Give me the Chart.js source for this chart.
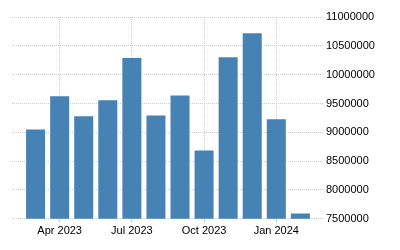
<!DOCTYPE html>
<html>
<head>
<meta charset="utf-8">
<script src="https://cdn.jsdelivr.net/npm/chart.js@4/dist/chart.umd.min.js"></script>
<style>
  html, body { margin: 0; padding: 0; background: #fff; }
  #wrap { width: 400px; height: 250px; }
</style>
</head>
<body>
<div id="wrap"><canvas id="chart"></canvas></div>
<script>
// monthly values, Mar 2023 .. Feb 2024
const months = ['Mar 2023', 'Apr 2023', 'May 2023', 'Jun 2023', 'Jul 2023', 'Aug 2023',
  'Sep 2023', 'Oct 2023', 'Nov 2023', 'Dec 2023', 'Jan 2024', 'Feb 2024'];
const values = [9050000, 9625000, 9280000, 9555000, 10290000, 9290000,
  9640000, 8685000, 10300000, 10720000, 9225000, 7590000];
const xTickIdx = [1, 4, 7, 10];
const yTicks = [7500000, 8000000, 8500000, 9000000, 9500000, 10000000, 10500000, 11000000];

const points = values.map((v, i) => ({ x: i, y: v }));
const font = { family: '"Liberation Sans", Arial, sans-serif', size: 11 };

new Chart(document.getElementById('chart'), {
  type: 'bar',
  data: {
    datasets: [{
      data: points,
      backgroundColor: '#4682b4',
      borderWidth: 0,
      barPercentage: 0.79,
      categoryPercentage: 1
    }]
  },
  options: {
    responsive: true,
    maintainAspectRatio: false,
    animation: false,
    layout: { padding: { left: 12, top: 17, right: 0, bottom: 10 } },
    plugins: { legend: { display: false }, tooltip: { enabled: false } },
    scales: {
      x: {
        type: 'linear',
        offset: false,
        min: -0.98,
        max: 11.94,
        afterBuildTicks: (scale) => {
          scale.ticks = xTickIdx.map(v => ({ value: v }));
        },
        ticks: {
          color: '#000',
          font: font,
          autoSkip: false,
          maxRotation: 0,
          padding: 2,
          callback: (v) => months[v]
        },
        grid: {
          offset: false,
          color: '#cccccc',
          lineWidth: 1,
          tickLength: 4,
          tickColor: '#cccccc',
          drawTicks: true
        },
        border: { display: false, dash: [1, 1] }
      },
      y: {
        position: 'right',
        min: 7500000,
        max: 11000000,
        afterBuildTicks: (scale) => {
          scale.ticks = yTicks.map(v => ({ value: v }));
        },
        afterFit: (scale) => { scale.width = 77; },
        ticks: {
          color: '#000',
          font: font,
          padding: 3,
          callback: (v) => String(v)
        },
        grid: {
          color: '#cccccc',
          lineWidth: 1,
          drawTicks: false
        },
        border: { display: false, dash: [1, 1] }
      }
    }
  }
});
</script>
</body>
</html>
